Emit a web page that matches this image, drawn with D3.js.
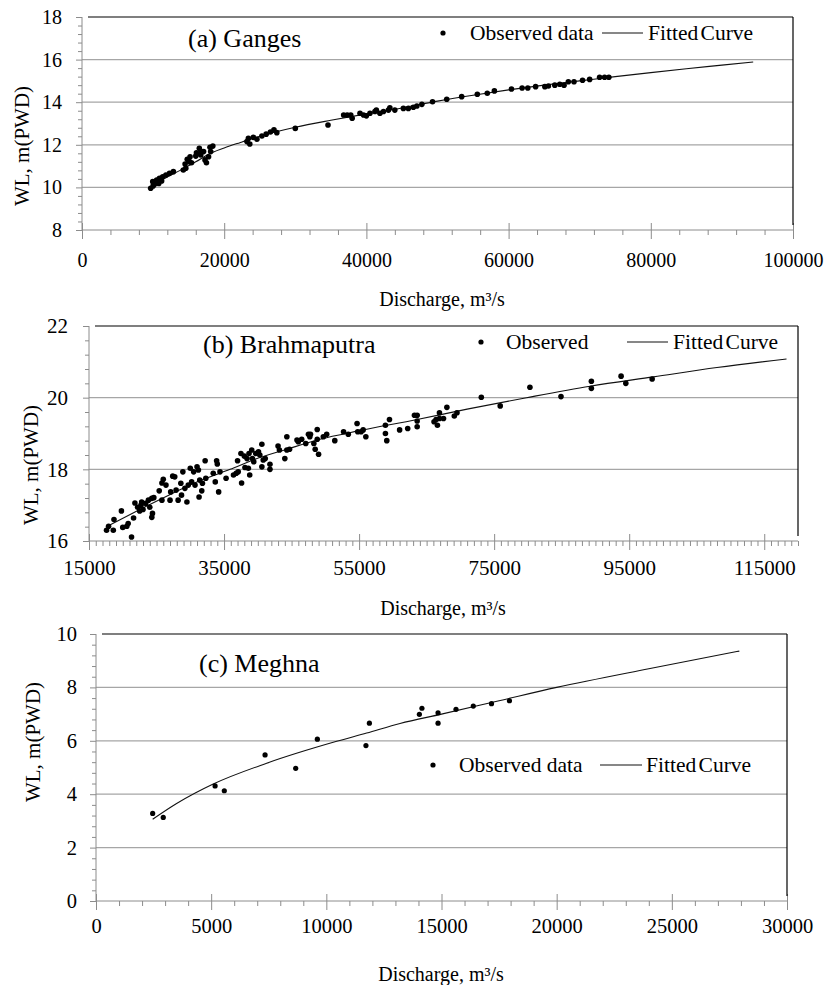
<!DOCTYPE html>
<html><head><meta charset="utf-8">
<script src="https://cdn.jsdelivr.net/npm/d3@7"></script>
<style>
body{margin:0;background:#fff}
svg{display:block}
text{font-family:"Liberation Serif","Times New Roman",serif;fill:#000}
</style>
</head><body><svg id="chart" width="826" height="985"></svg>
<script>
// ---------------- DATA ----------------
// (a) Ganges: [discharge m3/s, water level m PWD]
const gangesObserved = [
 [9660,9.96],[10000,10.07],[9950,10.27],[10200,10.15],[10500,10.35],[10800,10.18],[10900,10.43],[11200,10.30],
 [11350,10.50],[11800,10.58],[12300,10.66],[12850,10.74],[14250,10.82],[14600,10.90],[14500,11.10],[14800,11.32],
 [15100,11.21],[15200,11.44],[15400,11.16],[16000,11.47],[16100,11.63],[16500,11.84],[16700,11.52],[16800,11.68],
 [17100,11.68],[17300,11.29],[17500,11.16],[17800,11.44],[18000,11.88],[18100,11.68],[18400,11.94],
 [23200,12.15],[23400,12.30],[23600,12.04],[24100,12.35],[24600,12.26],[25300,12.41],[25900,12.50],[26500,12.60],
 [27000,12.70],[27400,12.57],[30000,12.77],[34600,12.93],[36800,13.40],[37300,13.40],[37800,13.40],[38000,13.25],
 [39100,13.48],[39600,13.40],[40000,13.36],[40500,13.48],[41200,13.56],[41400,13.63],[41900,13.48],[42400,13.56],
 [43100,13.63],[43300,13.74],[44000,13.63],[45200,13.71],[45900,13.71],[46600,13.76],[47100,13.82],[47800,13.90],
 [49300,14.02],[51300,14.14],[53400,14.26],[55600,14.37],[57000,14.42],[58000,14.53],[60400,14.62],[61900,14.67],
 [62700,14.67],[63800,14.73],[65100,14.73],[65600,14.76],[66500,14.80],[67200,14.84],[67800,14.80],[68400,14.96],
 [69200,14.96],[70400,15.03],[71400,15.07],[72800,15.17],[73500,15.17],[74100,15.17]
];
const gangesFitted = [
 [9600,10.0],[11000,10.3],[13800,10.8],[16000,11.2],[17800,11.56],[20000,11.85],[22200,12.1],[25000,12.4],
 [30000,12.82],[35000,13.15],[40000,13.45],[45000,13.73],[50000,14.05],[55000,14.33],[60000,14.58],[65000,14.8],
 [70000,15.0],[75000,15.2],[80000,15.39],[85000,15.57],[90000,15.74],[94400,15.89]
];
const gangesXTicks = [0,20000,40000,60000,80000,100000];
const gangesYTicks = [8,10,12,14,16,18];

// (b) Brahmaputra
const brahmaObserved = [
 [17600,16.30],[17900,16.41],[18600,16.30],[18700,16.60],[19800,16.84],[20000,16.38],[20600,16.41],[20800,16.49],
 [21300,16.11],[21600,16.64],[21800,17.06],[22200,16.94],[22500,16.84],[22700,17.00],[23000,16.88],[22800,17.09],
 [23400,17.05],[23800,17.14],[24000,16.94],[24300,16.66],[24400,16.77],[24300,17.19],[24600,17.21],[25400,17.40],
 [25800,17.14],[25800,17.62],[26000,17.72],[26400,17.56],[27000,17.14],[27100,17.37],[27400,17.81],[27700,17.79],
 [27900,17.42],[28200,17.14],[28600,17.61],[28900,17.93],[28700,17.28],[29200,17.47],[29500,17.09],[29700,17.56],
 [30000,18.03],[30200,17.65],[30500,17.93],[30700,17.56],[31000,18.07],[31200,17.98],[31300,17.23],[31400,17.70],
 [31700,17.40],[31800,17.61],[32200,18.24],[32300,17.75],[33400,17.89],[33700,17.65],[33900,18.24],[34000,18.15],
 [34200,17.37],[34400,17.93],[35300,17.75],
 [36400,17.84],[36800,17.89],[37000,18.24],[37100,17.93],[37500,18.44],[37600,17.62],[38000,18.37],[38100,18.05],
 [38400,18.30],[38600,18.03],[38700,18.44],[38800,17.84],[39100,18.54],[39200,18.30],[39400,18.21],[39700,18.44],
 [40100,18.49],[40300,18.40],[40600,18.70],[40600,18.07],[40800,18.26],[41100,18.30],[41800,18.00],[41800,18.14],
 [43000,18.65],[43200,18.54],[44000,18.30],[44300,18.91],[44300,18.54],[44700,18.56],[45800,18.82],[46000,18.77],
 [46500,18.84],[47100,18.72],[47500,18.98],[47700,18.91],[47800,18.98],[48300,18.72],[48500,18.56],[48800,18.84],
 [48800,19.11],[49000,18.42],[49700,18.91],[50200,18.98],[51400,18.80],[52700,19.05],[53400,18.98],[54700,19.28],
 [54800,19.05],
 [55300,19.05],[55600,19.10],[56000,18.91],[58900,19.23],[58900,19.00],[59100,18.80],[59500,19.39],[61000,19.10],
 [62200,19.14],[63200,19.51],[63600,19.51],[63600,19.35],[63600,19.19],[66100,19.33],[66400,19.39],[66600,19.23],
 [66900,19.42],[67500,19.42],[66900,19.58],[68000,19.73],[69100,19.49],[69500,19.58],[73100,20.01],[75900,19.77],
 [80300,20.29],[84900,20.03],[89400,20.46],[89400,20.26],[93800,20.60],[94500,20.40],[98400,20.52]
];
const brahmaFitted = [
 [17800,16.42],[21600,16.79],[26500,17.25],[31400,17.68],[35900,18.0],[39300,18.26],[44300,18.56],[49200,18.84],
 [55100,19.08],[63600,19.39],[71000,19.68],[79800,20.0],[89200,20.32],[98600,20.58],[108000,20.84],[118300,21.08]
];
const brahmaXTicks = [15000,35000,55000,75000,95000,115000];
const brahmaYTicks = [16,18,20,22];

// (c) Meghna
const meghnaObserved = [
 [2460,3.28],[2920,3.13],[5170,4.31],[5570,4.13],[7340,5.47],[8670,4.97],[9610,6.06],[11720,5.82],[11870,6.66],
 [14040,6.99],[14150,7.22],[14850,7.05],[14850,6.66],[15630,7.18],[16380,7.30],[17170,7.39],[17950,7.50]
];
const meghnaFitted = [
 [2460,3.06],[3500,3.65],[5090,4.38],[7410,5.16],[10450,5.98],[11750,6.29],[13200,6.65],[15000,7.0],
 [17500,7.5],[20000,8.0],[24000,8.7],[27930,9.36]
];
const meghnaXTicks = [0,5000,10000,15000,20000,25000,30000];
const meghnaYTicks = [0,2,4,6,8,10];

// ---------------- LAYOUT ----------------
const panels = [
 {title:"(a) Ganges", obs:gangesObserved, fit:gangesFitted, xTicks:gangesXTicks, yTicks:gangesYTicks,
  xDomain:[0,100000], yDomain:[8,18], xMinor:4000, yMinor:0.4,
  box:{l:82,r:793,t:17,b:230}, tickFont:20, xLabOff:30, yLabOff:20, r:2.8,
  titlePos:[188,38], yTitle:[22,146], xTitle:[442,299],
  legend:{dot:[443,33], obsText:"Observed data", obsX:470, line:[602,643], fitX:648}},
 {title:"(b) Brahmaputra", obs:brahmaObserved, fit:brahmaFitted, xTicks:brahmaXTicks, yTicks:brahmaYTicks,
  xDomain:[15000,120000], yDomain:[16,22], xMinor:1000, yMinor:0.4,
  box:{l:89,r:798,t:326,b:541}, tickFont:21, xLabOff:27, yLabOff:21, r:2.8,
  titlePos:[203,344], yTitle:[31,465], xTitle:[443,608],
  legend:{dot:[481,342], obsText:"Observed", obsX:506, line:[627,668], fitX:673}},
 {title:"(c) Meghna", obs:meghnaObserved, fit:meghnaFitted, xTicks:meghnaXTicks, yTicks:meghnaYTicks,
  xDomain:[0,30000], yDomain:[0,10], xMinor:1000, yMinor:0.4,
  box:{l:96,r:787,t:634,b:901}, tickFont:20.5, xLabOff:25, yLabOff:19, r:2.6,
  titlePos:[199,663], yTitle:[33,742], xTitle:[441,974],
  legend:{dot:[433,765], obsText:"Observed data", obsX:459, line:[600,642], fitX:646}}
];

const svg = d3.select("#chart");
svg.append("rect").attr("width",826).attr("height",985).attr("fill","#fff");
const AXIS = "#8c8c8c", GRID = "#a6a6a6";

panels.forEach(p => {
  const {l,r,t,b} = p.box;
  const x = d3.scaleLinear().domain(p.xDomain).range([l,r]);
  const y = d3.scaleLinear().domain(p.yDomain).range([b,t]);
  const g = svg.append("g");

  // gridlines
  g.selectAll(".grid").data(p.yTicks.filter(v => v>p.yDomain[0] && v<p.yDomain[1])).join("line")
    .attr("x1",l).attr("x2",r).attr("y1",d=>y(d)).attr("y2",d=>y(d))
    .attr("stroke",GRID).attr("stroke-width",1.2);

  // minor ticks y
  const yMinorVals = d3.range(p.yDomain[0], p.yDomain[1]+1e-9, p.yMinor).filter(v => !p.yTicks.some(tk=>Math.abs(tk-v)<1e-6));
  const yMinorAxis = d3.axisLeft(y).tickValues(yMinorVals).tickSize(4).tickFormat("");
  const gym = g.append("g").attr("transform",`translate(${l},0)`).call(yMinorAxis);
  gym.select(".domain").remove();
  gym.selectAll("line").attr("stroke",AXIS);

  // minor ticks x
  const xMinorVals = d3.range(p.xDomain[0], p.xDomain[1]+1e-9, p.xMinor).filter(v => !p.xTicks.some(tk=>Math.abs(tk-v)<1e-6));
  const xMinorAxis = d3.axisBottom(x).tickValues(xMinorVals).tickSize(5).tickFormat("");
  const gxm = g.append("g").attr("transform",`translate(0,${b})`).call(xMinorAxis);
  gxm.select(".domain").remove();
  gxm.selectAll("line").attr("stroke",AXIS);

  // y axis major
  const yAxis = d3.axisLeft(y).tickValues(p.yTicks).tickSize(6).tickPadding(p.yLabOff-6).tickFormat(d3.format("d"));
  const gy = g.append("g").attr("transform",`translate(${l},0)`).call(yAxis);
  gy.select(".domain").attr("stroke",AXIS).attr("d",`M0,${b}V${t}`);
  gy.selectAll("line").attr("stroke",AXIS);
  gy.selectAll("text").attr("font-size",p.tickFont).attr("font-family","Liberation Serif").attr("fill","#000");

  // x axis major (ticks cross the axis)
  const xAxis = d3.axisBottom(x).tickValues(p.xTicks).tickSize(9).tickFormat(d3.format("d"));
  const gx = g.append("g").attr("transform",`translate(0,${b})`).call(xAxis);
  gx.select(".domain").attr("stroke",AXIS).attr("d",`M${l},0H${r}`);
  gx.selectAll("line").attr("stroke",AXIS).attr("y1",-7).attr("y2",9);
  gx.selectAll("text").attr("font-size",p.tickFont).attr("font-family","Liberation Serif").attr("fill","#000")
    .attr("y",p.xLabOff).attr("dy","0");
  gx.selectAll("text").attr("dominant-baseline","central");

  // top & right border
  g.append("line").attr("x1",l+6).attr("x2",r).attr("y1",t).attr("y2",t).attr("stroke","#000").attr("stroke-width",1.2);
  g.append("line").attr("x1",r).attr("x2",r).attr("y1",t).attr("y2",b-5).attr("stroke","#000").attr("stroke-width",1.2);

  // fitted curve
  const line = d3.line().x(d=>x(d[0])).y(d=>y(d[1])).curve(d3.curveMonotoneX);
  g.append("path").datum(p.fit).attr("d",line).attr("fill","none").attr("stroke","#111").attr("stroke-width",1.1);

  // observed points
  g.selectAll(".pt").data(p.obs).join("circle")
    .attr("cx",d=>x(d[0])).attr("cy",d=>y(d[1])).attr("r",p.r).attr("fill","#000");

  // title
  g.append("text").attr("x",p.titlePos[0]).attr("y",p.titlePos[1]).attr("dominant-baseline","central")
    .attr("font-size",26).text(p.title);

  // legend
  const L = p.legend;
  g.append("circle").attr("cx",L.dot[0]).attr("cy",L.dot[1]).attr("r",2.6).attr("fill","#000");
  g.append("text").attr("x",L.obsX).attr("y",L.dot[1]).attr("dominant-baseline","central").attr("font-size",21.5).text(L.obsText);
  g.append("line").attr("x1",L.line[0]).attr("x2",L.line[1]).attr("y1",L.dot[1]).attr("y2",L.dot[1]).attr("stroke","#111").attr("stroke-width",1.1);
  g.append("text").attr("x",L.fitX).attr("y",L.dot[1]).attr("dominant-baseline","central").attr("font-size",21.5)
    .attr("word-spacing",-3).text("Fitted Curve");

  // axis titles
  g.append("text").attr("transform",`translate(${p.yTitle[0]},${p.yTitle[1]}) rotate(-90)`)
    .attr("text-anchor","middle").attr("dominant-baseline","central").attr("font-size",21).text("WL, m(PWD)");
  g.append("text").attr("x",p.xTitle[0]).attr("y",p.xTitle[1]).attr("text-anchor","middle")
    .attr("dominant-baseline","central").attr("font-size",20).text("Discharge, m³/s");
});
</script>
</body></html>
